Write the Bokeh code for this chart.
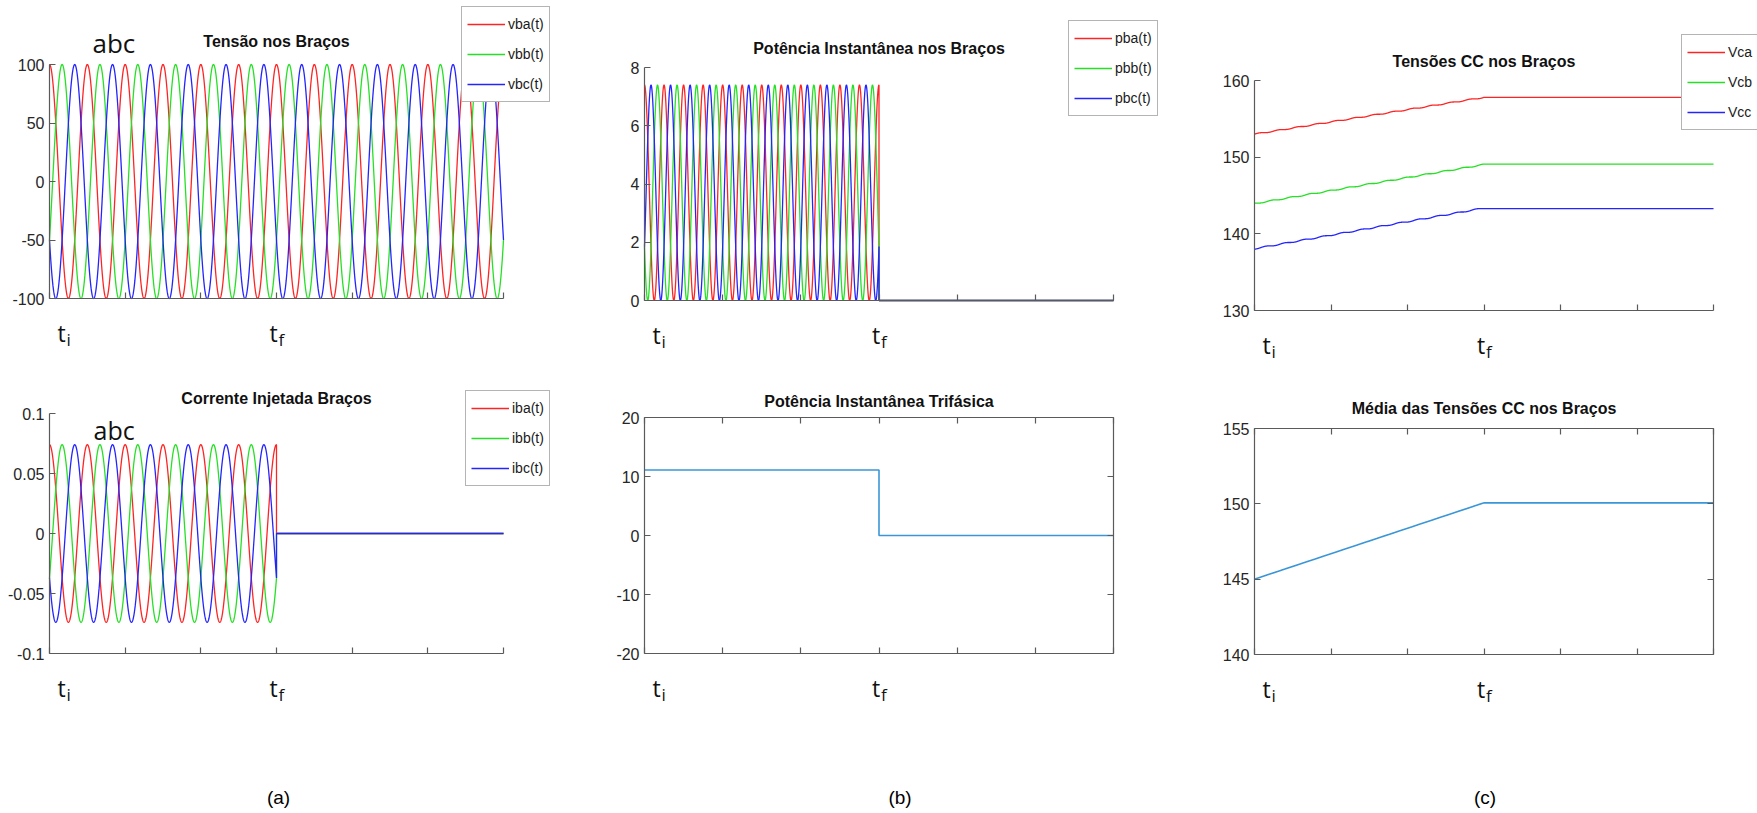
import numpy as np
from bokeh.plotting import figure
from bokeh.models import Range1d, FixedTicker, LinearAxis, Legend, LegendItem, Label
from bokeh.layouts import row, column
from bokeh.embed import file_html
from bokeh.resources import INLINE

# ---------------- data ----------------
# time axis expressed in fundamental cycles: 6 tick intervals, 2 cycles each
x_ticks = [0, 2, 4, 6, 8, 10, 12]
t_i = 0
t_f = 6
t_end = 12
arm_phase_deg = [0, -120, 120]          # arms a, b, c
v_peak = 100.0                          # arm voltage amplitude
i_peak = 0.074                          # injected current amplitude
vdc_start = [153.0, 144.0, 138.0]       # Vca, Vcb, Vcc at t_i
vdc_end = [157.8, 149.1, 143.3]         # Vca, Vcb, Vcc at t_f

v_labels = ["vba(t)", "vbb(t)", "vbc(t)"]
i_labels = ["iba(t)", "ibb(t)", "ibc(t)"]
p_labels = ["pba(t)", "pbb(t)", "pbc(t)"]
vdc_labels = ["Vca", "Vcb", "Vcc"]

yt_v = [-100, -50, 0, 50, 100]
yt_v_lbl = ["-100", "-50", "0", "50", "100"]
yt_i = [-0.1, -0.05, 0, 0.05, 0.1]
yt_i_lbl = ["-0.1", "-0.05", "0", "0.05", "0.1"]
yt_p = [0, 2, 4, 6, 8]
yt_p_lbl = ["0", "2", "4", "6", "8"]
yt_p3 = [-20, -10, 0, 10, 20]
yt_p3_lbl = ["-20", "-10", "0", "10", "20"]
yt_vdc = [130, 140, 150, 160]
yt_vdc_lbl = ["130", "140", "150", "160"]
yt_vm = [140, 145, 150, 155]
yt_vm_lbl = ["140", "145", "150", "155"]

titles = ["Tensão nos Braços", "Corrente Injetada Braços",
          "Potência Instantânea nos Braços", "Potência Instantânea Trifásica",
          "Tensões CC nos Braços", "Média das Tensões CC nos Braços"]
captions = ["(a)", "(b)", "(c)"]

# ---------------- derived series ----------------
t_full = np.linspace(t_i, t_end, 2401)
t_on = np.linspace(t_i, t_f, 1201)
x_step = np.concatenate([t_on, [t_f, t_end]])

volt = [v_peak * np.cos(2 * np.pi * t_full + np.radians(ph)) for ph in arm_phase_deg]
volt_on = [v_peak * np.cos(2 * np.pi * t_on + np.radians(ph)) for ph in arm_phase_deg]
curr = [np.concatenate([i_peak * np.cos(2 * np.pi * t_on + np.radians(ph)), [0, 0]])
        for ph in arm_phase_deg]
power = [np.concatenate([vo * c[:-2], [0, 0]]) for vo, c in zip(volt_on, curr)]
p3 = power[0] + power[1] + power[2]

vdc = []
for k in range(3):
    p_on = power[k][:-2]
    e = np.concatenate([[0], np.cumsum((p_on[1:] + p_on[:-1]) / 2)])
    e = e / e[-1]
    v_on = vdc_start[k] + (vdc_end[k] - vdc_start[k]) * e
    vdc.append(np.concatenate([v_on, [v_on[-1], v_on[-1]]]))
vmean = (vdc[0] + vdc[1] + vdc[2]) / 3

# ---------------- styling ----------------
RED, GREEN, BLUE = "#ff2424", "#26e026", "#2424ff"
MBLUE = "#3a96d6"
AX = "#5a5a5a"
SANS = "Liberation Sans"
LW = 1.3
colors = [RED, GREEN, BLUE]
SPLIT = 375   # page row where the upper figures end


def style_axis(ax, ticks, labels=None):
    ax.ticker = FixedTicker(ticks=ticks)
    ax.axis_line_color = AX
    ax.axis_line_width = 1.2
    ax.major_tick_line_color = AX
    ax.major_tick_line_width = 1.2
    ax.major_tick_in = 6
    ax.major_tick_out = 0
    ax.minor_tick_line_color = None
    if labels is not None:
        ax.major_label_overrides = {t: l for t, l in zip(ticks, labels)}
        ax.major_label_text_font = SANS
        ax.major_label_text_font_size = "16px"
        ax.major_label_text_color = "#262626"
        ax.major_label_standoff = 5
    else:
        ax.major_label_text_color = None
        ax.major_label_text_alpha = 0
        ax.major_label_standoff = 0


def make_fig(canvas, box, yr, yticks, ylabels, title, title_off, full_box):
    """canvas = (X0, X1, Y0, Y1) page pixels of the figure,
    box = (px0, px1, py_top, py_bottom) page pixels of the axes box."""
    X0, X1, Y0, Y1 = canvas
    px0, px1, pyt, pyb = box
    ymin, ymax = yr
    sx = (px1 - px0) / (t_end - t_i)
    sy = (pyb - pyt) / (ymax - ymin)
    xr = Range1d(t_i - (px0 - X0) / sx, t_end + (X1 - px1) / sx)
    yrng = Range1d(ymin - (Y1 - pyb) / sy, ymax + (pyt - Y0) / sy)
    p = figure(width=X1 - X0, height=Y1 - Y0, x_range=xr, y_range=yrng,
               output_backend="svg", toolbar_location=None,
               x_axis_type=None, y_axis_type=None,
               min_border_left=0, min_border_right=0,
               min_border_top=0, min_border_bottom=0)
    p.grid.visible = False
    p.background_fill_color = "white"
    p.border_fill_color = "white"
    p.outline_line_color = None
    xb = LinearAxis(fixed_location=ymin, bounds=(t_i, t_end))
    style_axis(xb, x_ticks)
    p.add_layout(xb, "below")
    yl = LinearAxis(fixed_location=t_i, bounds=(ymin, ymax))
    style_axis(yl, yticks, ylabels)
    p.add_layout(yl, "left")
    if full_box:
        xa = LinearAxis(fixed_location=ymax, bounds=(t_i, t_end))
        style_axis(xa, x_ticks)
        p.add_layout(xa, "above")
        yra = LinearAxis(fixed_location=t_end, bounds=(ymin, ymax))
        style_axis(yra, yticks)
        p.add_layout(yra, "right")
    # title just above the axes box
    p.add_layout(Label(x=(t_i + t_end) / 2, y=ymax, y_offset=title_off, text=title,
                       text_font=SANS, text_font_style="bold", text_font_size="16px",
                       text_color="#111111", text_align="center",
                       text_baseline="alphabetic"))
    p._ymin = ymin
    p._ymax = ymax
    return p


def add_legend(p, rends, labels, loc):
    items = [LegendItem(label=l, renderers=[r]) for l, r in zip(labels, rends)]
    lg = Legend(items=items, location=loc)
    lg.label_text_font = SANS
    lg.label_text_font_size = "14px"
    lg.label_text_color = "#1a1a1a"
    lg.glyph_width = 38
    lg.glyph_height = 24
    lg.label_height = 24
    lg.label_standoff = 3
    lg.spacing = 6
    lg.padding = 5
    lg.margin = 0
    lg.border_line_color = "#6a6a6a"
    lg.border_line_width = 1.3
    lg.background_fill_color = "white"
    lg.background_fill_alpha = 1
    p.add_layout(lg)


def add_t_labels(p, dy=34):
    for xv, sub, xo in [(t_i, "i", 8), (t_f, "f", -7)]:
        p.add_layout(Label(x=xv, y=p._ymin, x_offset=xo, y_offset=-dy, text="t",
                           text_font="Open Sans", text_font_size="23px",
                           text_baseline="alphabetic", text_align="left",
                           text_color="#111111"))
        p.add_layout(Label(x=xv, y=p._ymin, x_offset=xo + 9, y_offset=-dy - 7, text=sub,
                           text_font="Open Sans", text_font_size="17px",
                           text_baseline="alphabetic", text_align="left",
                           text_color="#111111"))


def add_caption(p, text, xo, dy):
    p.add_layout(Label(x=(t_i + t_end) / 2, y=p._ymin, x_offset=xo, y_offset=-dy, text=text,
                       text_font=SANS, text_font_size="19px",
                       text_baseline="middle", text_align="center", text_color="#000000"))


def add_abc(p, xo, yo, size):
    p.add_layout(Label(x=t_i, y=p._ymax, x_offset=xo, y_offset=yo, text="abc",
                       text_font="Open Sans", text_font_size=size,
                       text_baseline="alphabetic", text_color="#111111"))


# ---- column (a) ----
a1 = make_fig((0, 560, 0, SPLIT), (49, 503, 64, 298), (-100, 100), yt_v, yt_v_lbl,
              titles[0], 23, False)
r = [a1.line(t_full, volt[k], color=colors[k], line_width=LW) for k in range(3)]
add_legend(a1, r, v_labels, (461, SPLIT - 102))
add_abc(a1, 43, 22, "26px")
add_t_labels(a1)

a2 = make_fig((0, 560, SPLIT, 813), (49, 503, 413, 653), (-0.1, 0.1), yt_i, yt_i_lbl,
              titles[1], 15, False)
r = [a2.line(x_step, curr[k], color=colors[k], line_width=LW) for k in range(3)]
add_legend(a2, r, i_labels, (465, 813 - 486))
add_abc(a2, 44, -16, "25px")
add_t_labels(a2)
add_caption(a2, captions[0], 2, 144)

# ---- column (b) ----
b1 = make_fig((0, 620, 0, SPLIT), (84, 553, 67, 300), (0, 8), yt_p, yt_p_lbl,
              titles[2], 19, False)
r = [b1.line(x_step, power[k], color=colors[k], line_width=LW) for k in range(3)]
add_legend(b1, r, p_labels, (508, SPLIT - 116))
add_t_labels(b1)

b2 = make_fig((0, 620, SPLIT, 813), (84, 553, 417, 653), (-20, 20), yt_p3, yt_p3_lbl,
              titles[3], 16, True)
b2.line(x_step, p3, color=MBLUE, line_width=1.6)
add_t_labels(b2)
add_caption(b2, captions[1], 21, 144)

# ---- column (c) ----
c1 = make_fig((0, 577, 0, SPLIT), (74, 533, 80, 310), (130, 160), yt_vdc, yt_vdc_lbl,
              titles[4], 19, False)
r = [c1.line(x_step, vdc[k], color=colors[k], line_width=LW) for k in range(3)]
add_legend(c1, r, vdc_labels, (501, SPLIT - 130))
add_t_labels(c1)

c2 = make_fig((0, 577, SPLIT, 813), (74, 533, 428, 654), (140, 155), yt_vm, yt_vm_lbl,
              titles[5], 20, True)
c2.line(x_step, vmean, color=MBLUE, line_width=1.6)
add_t_labels(c2)
add_caption(c2, captions[2], 1, 143)

layout = row(column(a1, a2, spacing=0), column(b1, b2, spacing=0),
             column(c1, c2, spacing=0), spacing=0)

open("out.html", "w").write(file_html(layout, INLINE))
